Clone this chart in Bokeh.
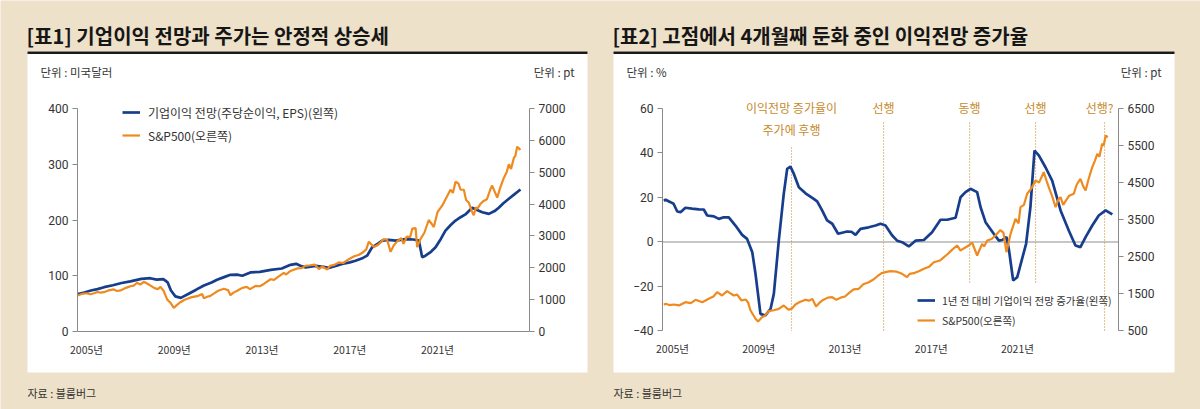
from bokeh.plotting import figure
from bokeh.models import Range1d, LinearAxis, FixedTicker, Label, Legend, LegendItem
from bokeh.embed import file_html
from bokeh.resources import INLINE

# ---------------- data ----------------
year_ticks = [2005, 2009, 2013, 2017, 2021]
year_labels = ["2005년", "2009년", "2013년", "2017년", "2021년"]

eps_ticks = [0, 100, 200, 300, 400]
sp1_ticks = [0, 1000, 2000, 3000, 4000, 5000, 6000, 7000]
growth_ticks = [-40, -20, 0, 20, 40, 60]
sp2_ticks = [500, 1500, 2500, 3500, 4500, 5500, 6500]

# chart 1: forward EPS (USD, left) and S&P500 (pt, right) -- (year, value)
eps_forward = [
    (2004.6, 67), (2004.9, 70), (2005.2, 73.5), (2005.5, 76), (2005.8, 79.5), (2006.2, 83), (2006.6, 87),
    (2007.0, 90), (2007.5, 94.5), (2007.9, 95.6), (2008.2, 93), (2008.5, 94), (2008.7, 88), (2008.85, 73.5),
    (2009.05, 63), (2009.3, 60.4), (2009.7, 68.7), (2010.0, 75), (2010.35, 82.5), (2010.7, 88), (2010.95, 92.7),
    (2011.3, 98), (2011.56, 101.7), (2011.86, 102), (2012.1, 100), (2012.47, 106), (2012.9, 107), (2013.4, 110.6),
    (2013.9, 113), (2014.3, 119.6), (2014.55, 121.4), (2014.75, 118), (2014.98, 115), (2015.44, 117.8),
    (2015.8, 116), (2016.04, 114), (2016.4, 118), (2016.65, 121), (2017.0, 124), (2017.26, 127), (2017.6, 132),
    (2017.79, 136), (2018.02, 151), (2018.3, 158), (2018.48, 163), (2018.78, 164.5), (2019.1, 163),
    (2019.54, 165.6), (2019.9, 165), (2020.15, 163), (2020.3, 133), (2020.45, 136), (2020.7, 143), (2020.91, 151),
    (2021.15, 166), (2021.36, 181), (2021.6, 191), (2021.82, 199), (2022.05, 205), (2022.27, 210), (2022.58, 222),
    (2022.8, 218), (2023.04, 214), (2023.34, 211), (2023.6, 216), (2023.79, 222), (2024.0, 230), (2024.25, 238),
    (2024.5, 246), (2024.78, 254.7),
]
sp500_chart1 = [
    (2004.6, 1130), (2004.8, 1183), (2005.0, 1200), (2005.18, 1170), (2005.35, 1200), (2005.49, 1240),
    (2005.65, 1220), (2005.79, 1235), (2006.0, 1290), (2006.24, 1320), (2006.4, 1270), (2006.55, 1290),
    (2006.8, 1370), (2007.0, 1420), (2007.15, 1440), (2007.31, 1530), (2007.45, 1470), (2007.61, 1560),
    (2007.8, 1490), (2007.92, 1440), (2008.1, 1360), (2008.25, 1330), (2008.37, 1400), (2008.52, 1270),
    (2008.68, 1000), (2008.83, 900), (2008.98, 740), (2009.1, 820), (2009.28, 920), (2009.45, 990),
    (2009.59, 1030), (2009.8, 1080), (2010.05, 1110), (2010.27, 1180), (2010.35, 1040), (2010.5, 1090),
    (2010.65, 1120), (2010.8, 1190), (2011.0, 1280), (2011.26, 1340), (2011.45, 1300), (2011.56, 1140),
    (2011.7, 1220), (2011.87, 1280), (2012.1, 1370), (2012.3, 1400), (2012.45, 1330), (2012.7, 1430),
    (2012.9, 1420), (2013.1, 1500), (2013.39, 1640), (2013.55, 1620), (2013.75, 1720), (2013.99, 1840),
    (2014.1, 1790), (2014.3, 1900), (2014.6, 1980), (2014.8, 1990), (2014.98, 2060), (2015.2, 2080),
    (2015.4, 2100), (2015.59, 1960), (2015.75, 2040), (2015.97, 1940), (2016.1, 2060), (2016.3, 2090),
    (2016.5, 2170), (2016.7, 2150), (2016.96, 2270), (2017.2, 2360), (2017.4, 2400), (2017.57, 2470),
    (2017.75, 2580), (2017.87, 2820), (2018.1, 2650), (2018.3, 2720), (2018.55, 2900), (2018.7, 2880),
    (2018.86, 2500), (2019.0, 2700), (2019.16, 2830), (2019.35, 2930), (2019.45, 2750), (2019.6, 2980),
    (2019.75, 2960), (2019.85, 3230), (2020.0, 3250), (2020.07, 2650), (2020.22, 2900), (2020.4, 3100),
    (2020.6, 3500), (2020.75, 3360), (2020.83, 3280), (2021.0, 3750), (2021.21, 3950), (2021.4, 4200),
    (2021.59, 4450), (2021.7, 4350), (2021.82, 4700), (2021.95, 4650), (2022.05, 4450), (2022.2, 4450),
    (2022.3, 4130), (2022.42, 4050), (2022.55, 3800), (2022.65, 3650), (2022.75, 3900), (2022.81, 3850),
    (2022.95, 4000), (2023.1, 4100), (2023.25, 4150), (2023.4, 4450), (2023.49, 4580), (2023.6, 4400),
    (2023.72, 4200), (2023.85, 4500), (2024.02, 4820), (2024.15, 5000), (2024.25, 5250), (2024.35, 5100),
    (2024.48, 5450), (2024.55, 5520), (2024.63, 5800), (2024.72, 5740), (2024.78, 5700),
]

# chart 2: YoY growth of forward EPS (%, left) and S&P500 (pt, right)
eps_growth = [
    (2004.6, 18.5), (2004.68, 19.0), (2004.91, 17.9), (2005.05, 17.2), (2005.22, 13.7), (2005.37, 13.4),
    (2005.6, 15.4), (2005.9, 15.0), (2006.22, 14.7), (2006.45, 14.6), (2006.61, 11.9), (2006.92, 11.5),
    (2007.15, 10.4), (2007.38, 11.1), (2007.61, 11.1), (2007.92, 7.4), (2008.23, 3.2), (2008.46, 1.4),
    (2008.7, -4.6), (2008.85, -14.3), (2009.08, -32.3), (2009.31, -33.0), (2009.55, -30.0), (2009.7, -23.3),
    (2009.93, 0.6), (2010.16, 21.6), (2010.32, 32.9), (2010.47, 33.9), (2010.63, 30.6), (2010.86, 24.6),
    (2011.17, 21.9), (2011.55, 19.4), (2011.71, 18.3), (2011.94, 14.2), (2012.17, 9.7), (2012.41, 8.2),
    (2012.68, 3.7), (2013.1, 4.7), (2013.3, 4.6), (2013.49, 3.2), (2013.72, 5.9), (2014.1, 6.6), (2014.42, 7.4),
    (2014.65, 8.2), (2014.88, 7.4), (2015.19, 2.9), (2015.42, 0.6), (2015.65, -0.1), (2015.96, -2.0),
    (2016.27, 0.6), (2016.66, 0.9), (2017.04, 4.4), (2017.43, 10.0), (2017.74, 10.0), (2018.13, 10.9),
    (2018.36, 20.1), (2018.59, 22.4), (2018.82, 23.9), (2019.13, 22.4), (2019.29, 15.6), (2019.52, 8.9),
    (2019.9, 3.7), (2020.14, 0.6), (2020.29, 0.9), (2020.49, 2.2), (2020.6, -3.1), (2020.8, -17.3),
    (2020.99, -15.8), (2021.4, -0.8), (2021.6, 15.6), (2021.79, 41.1), (2021.99, 38.9), (2022.3, 33.6),
    (2022.61, 27.6), (2023.0, 14.2), (2023.38, 5.2), (2023.69, -1.6), (2023.92, -2.3), (2024.16, 2.2),
    (2024.47, 7.4), (2024.77, 11.9), (2025.09, 14.2), (2025.4, 12.4),
]
sp500_chart2 = [
    (2004.6, 1210), (2004.68, 1233), (2004.85, 1200), (2005.06, 1215), (2005.3, 1190), (2005.6, 1277),
    (2005.85, 1250), (2006.07, 1341), (2006.38, 1277), (2006.68, 1368), (2006.9, 1430), (2007.07, 1548),
    (2007.3, 1458), (2007.53, 1575), (2007.7, 1510), (2007.84, 1458), (2008.0, 1480), (2008.2, 1322),
    (2008.39, 1350), (2008.5, 1277), (2008.62, 1053), (2008.85, 829), (2008.97, 756), (2009.15, 872),
    (2009.3, 920), (2009.46, 1034), (2009.7, 1060), (2009.93, 1098), (2010.16, 1188), (2010.39, 1071),
    (2010.55, 1110), (2010.7, 1215), (2010.9, 1280), (2011.17, 1341), (2011.35, 1320), (2011.48, 1368),
    (2011.66, 1161), (2011.8, 1250), (2011.94, 1322), (2012.2, 1400), (2012.41, 1411), (2012.6, 1340),
    (2012.8, 1400), (2013.0, 1430), (2013.18, 1519), (2013.4, 1620), (2013.64, 1638), (2013.85, 1760),
    (2014.1, 1816), (2014.3, 1880), (2014.49, 1970), (2014.7, 2060), (2014.88, 2086), (2015.11, 2113),
    (2015.4, 2100), (2015.65, 2042), (2015.88, 1951), (2016.0, 2040), (2016.19, 2059), (2016.45, 2120),
    (2016.66, 2177), (2016.9, 2230), (2017.12, 2355), (2017.4, 2400), (2017.74, 2563), (2017.95, 2680),
    (2018.2, 2806), (2018.36, 2670), (2018.55, 2740), (2018.74, 2806), (2018.9, 2880), (2019.13, 2536),
    (2019.36, 2850), (2019.45, 2780), (2019.6, 2940), (2019.8, 2980), (2019.98, 3075), (2020.2, 3220),
    (2020.35, 3150), (2020.49, 2625), (2020.68, 3121), (2020.91, 3526), (2021.05, 3400), (2021.14, 3842),
    (2021.3, 3900), (2021.45, 4200), (2021.65, 4350), (2021.84, 4559), (2022.0, 4500), (2022.22, 4782),
    (2022.35, 4550), (2022.45, 4378), (2022.6, 4150), (2022.77, 3838), (2022.9, 4050), (2023.0, 4108),
    (2023.12, 3900), (2023.23, 4000), (2023.4, 4150), (2023.61, 4200), (2023.75, 4450), (2023.92, 4604),
    (2024.05, 4400), (2024.16, 4289), (2024.3, 4600), (2024.47, 4919), (2024.6, 5100), (2024.7, 5278),
    (2024.8, 5200), (2024.93, 5548), (2025.0, 5500), (2025.09, 5772), (2025.19, 5726),
]

marker_years = [2010.52, 2014.79, 2018.78, 2021.84, 2025.04]
marker_texts = ["이익전망 증가율이", "선행", "동행", "선행", "선행?"]
marker_note = "주가에 후행"

titles = ["[표1] 기업이익 전망과 주가는 안정적 상승세", "[표2] 고점에서 4개월째 둔화 중인 이익전망 증가율"]
units_left = ["단위 : 미국달러", "단위 : %"]
units_right = ["단위 : pt", "단위 : pt"]
source_text = "자료 : 블룸버그"
legend1 = ["기업이익 전망(주당순이익, EPS)(왼쪽)", "S&P500(오른쪽)"]
legend2 = ["1년 전 대비 기업이익 전망 증가율(왼쪽)", "S&P500(오른쪽)"]

# ---------------- style ----------------
BG = "#eee1c9"
BLUE = "#173e8c"
ORANGE = "#ef8a1f"
ANN = "#c68a2c"
AXIS = "#8a8a8a"
TXT = "#333333"
KR = "Noto Sans CJK KR"
NUM = "Roboto"
W, H = 1200, 409

# panel boxes in page pixels (left, right) and shared top/bottom
panels = [(27, 587), (613, 1174)]
PANEL_TOP, RULE_BOTTOM, PANEL_BOTTOM = 51, 53.5, 372


def xs(d):
    return [a for a, _ in d]


def ys(d):
    return [b for _, b in d]


def style_axis(ax, tick_out=5, standoff=4, size="12px", font=NUM):
    ax.axis_line_color = AXIS
    ax.axis_line_width = 1
    ax.major_tick_line_color = AXIS
    ax.major_tick_out = tick_out
    ax.major_tick_in = 0
    ax.minor_tick_line_color = None
    ax.major_label_text_font = font
    ax.major_label_text_font_size = size
    ax.major_label_text_color = TXT
    ax.major_label_standoff = standoff


p = figure(width=W, height=H,
           x_range=Range1d(2001.0802, 2055.7748), y_range=Range1d(-139.910, 593.722),
           output_backend="svg", toolbar_location=None, title=None,
           x_axis_type=None, y_axis_type=None,
           min_border=0, min_border_left=0, min_border_right=0, min_border_top=0, min_border_bottom=0,
           background_fill_color=BG, border_fill_color=BG, outline_line_color=None)
p.extra_x_ranges = {"x2": Range1d(1973.8312, 2029.4898), "px": Range1d(0, W)}
p.extra_y_ranges = {"sp1": Range1d(-2448.5, 10390.3), "g2": Range1d(-75.281, 108.539),
                    "sp2": Range1d(-1616.9, 9412.4), "py": Range1d(H, 0)}

# white panels + black rules
p.quad(left=[a for a, _ in panels], right=[b for _, b in panels], top=[PANEL_TOP] * 2,
       bottom=[PANEL_BOTTOM] * 2, fill_color="white", line_color=None,
       x_range_name="px", y_range_name="py")
p.quad(left=[a for a, _ in panels], right=[b for _, b in panels], top=[PANEL_TOP] * 2,
       bottom=[RULE_BOTTOM] * 2, fill_color="#1a1a1a", line_color=None,
       x_range_name="px", y_range_name="py")

for i, (lft, rgt) in enumerate(panels):
    p.add_layout(Label(x=lft - 1, y=35, x_range_name="px", y_range_name="py", text=titles[i],
                       text_font=KR, text_font_style="bold", text_font_size="20px",
                       text_baseline="middle", text_color="#161616"))
    p.add_layout(Label(x=lft + 13, y=71, x_range_name="px", y_range_name="py", text=units_left[i],
                       text_font=KR, text_font_size="11.5px", text_baseline="middle", text_color=TXT))
    p.add_layout(Label(x=rgt - 13, y=71, x_range_name="px", y_range_name="py", text=units_right[i],
                       text_font=KR, text_font_size="11.5px", text_baseline="middle", text_align="right",
                       text_color=TXT))
    p.add_layout(Label(x=lft, y=392, x_range_name="px", y_range_name="py", text=source_text,
                       text_font=KR, text_font_size="11px", text_baseline="middle", text_color=TXT))

# ---------------- chart 1 ----------------
ax_l1, ax_r1 = 2004.59, 2025.19
l1 = LinearAxis(ticker=FixedTicker(ticks=eps_ticks), bounds=(0, 400), fixed_location=ax_l1)
style_axis(l1)
p.add_layout(l1, "left")
r1 = LinearAxis(y_range_name="sp1", ticker=FixedTicker(ticks=sp1_ticks), bounds=(0, 7000), fixed_location=ax_r1)
style_axis(r1)
p.add_layout(r1, "right")
b1 = LinearAxis(ticker=FixedTicker(ticks=year_ticks), bounds=(ax_l1, ax_r1), fixed_location=0,
                major_label_overrides={t: s for t, s in zip(year_ticks, year_labels)})
style_axis(b1, tick_out=0, standoff=10, size="10.5px", font=KR)
b1.major_tick_line_color = None
p.add_layout(b1, "below")

rb1 = p.line(xs(eps_forward), ys(eps_forward), line_color=BLUE, line_width=2.7)
ro1 = p.line(xs(sp500_chart1), ys(sp500_chart1), line_color=ORANGE, line_width=2.2, y_range_name="sp1")
leg1 = Legend(items=[LegendItem(label=legend1[0], renderers=[rb1]), LegendItem(label=legend1[1], renderers=[ro1])],
              location=(122, 264), padding=0, margin=0, spacing=3, glyph_width=18, glyph_height=20,
              label_height=20, label_standoff=8, label_text_font=KR, label_text_font_size="12px",
              label_text_color=TXT, background_fill_alpha=0, border_line_color=None)
p.add_layout(leg1, "center")

# ---------------- chart 2 ----------------
ax_l2, ax_r2 = 2004.54, 2025.69
l2 = LinearAxis(x_range_name="x2", y_range_name="g2", ticker=FixedTicker(ticks=growth_ticks),
                bounds=(-40, 60), fixed_location=ax_l2)
style_axis(l2)
p.add_layout(l2, "left")
r2 = LinearAxis(x_range_name="x2", y_range_name="sp2", ticker=FixedTicker(ticks=sp2_ticks),
                bounds=(500, 6500), fixed_location=ax_r2)
style_axis(r2)
p.add_layout(r2, "right")
b2 = LinearAxis(x_range_name="x2", y_range_name="g2", ticker=FixedTicker(ticks=year_ticks),
                bounds=(ax_l2, ax_r2), fixed_location=-40,
                major_label_overrides={t: s for t, s in zip(year_ticks, year_labels)})
style_axis(b2, tick_out=0, standoff=10, size="10.5px", font=KR)
b2.axis_line_color = None
b2.major_tick_line_color = None
p.add_layout(b2, "below")

# zero line
p.line([ax_l2, ax_r2], [0, 0], line_color="#8f8f8f", line_width=1, x_range_name="x2", y_range_name="g2")

# dotted event markers
marker_top = [42.5, 53.7, 53.7, 53.7, 53.7]
marker_bottom = [-40, -40, -18.6, -18.6, -40]
p.segment(x0=marker_years, y0=marker_top, x1=marker_years, y1=marker_bottom,
          line_color=ANN, line_width=1.1, line_dash="1 2", x_range_name="x2", y_range_name="g2")

rb2 = p.line(xs(eps_growth), ys(eps_growth), line_color=BLUE, line_width=2.7,
             x_range_name="x2", y_range_name="g2")
ro2 = p.line(xs(sp500_chart2), ys(sp500_chart2), line_color=ORANGE, line_width=2.2,
             x_range_name="x2", y_range_name="sp2")

for i, (mx, mt) in enumerate(zip(marker_years, marker_texts)):
    p.add_layout(Label(x=mx, y=107, x_range_name="x2", y_range_name="py", text=mt, text_font=KR,
                       text_font_size="12px", text_align="center", text_baseline="middle", text_color=ANN,
                       x_offset=(-5 if i == len(marker_years) - 1 else 0)))
p.add_layout(Label(x=marker_years[0], y=129, x_range_name="x2", y_range_name="py", text=marker_note,
                   text_font=KR, text_font_size="12px", text_align="center", text_baseline="middle",
                   text_color=ANN))

leg2 = Legend(items=[LegendItem(label=legend2[0], renderers=[rb2]), LegendItem(label=legend2[1], renderers=[ro2])],
              location=(917, 80), padding=0, margin=0, spacing=2, glyph_width=18, glyph_height=18,
              label_height=18, label_standoff=7, label_text_font=KR, label_text_font_size="10.5px",
              label_text_color=TXT, background_fill_alpha=0, border_line_color=None)
p.add_layout(leg2, "center")

html = file_html(p, INLINE, title="chart")
html = html.replace("<body>", '<body style="background:%s;">' % BG, 1)
open("out.html", "w").write(html)
